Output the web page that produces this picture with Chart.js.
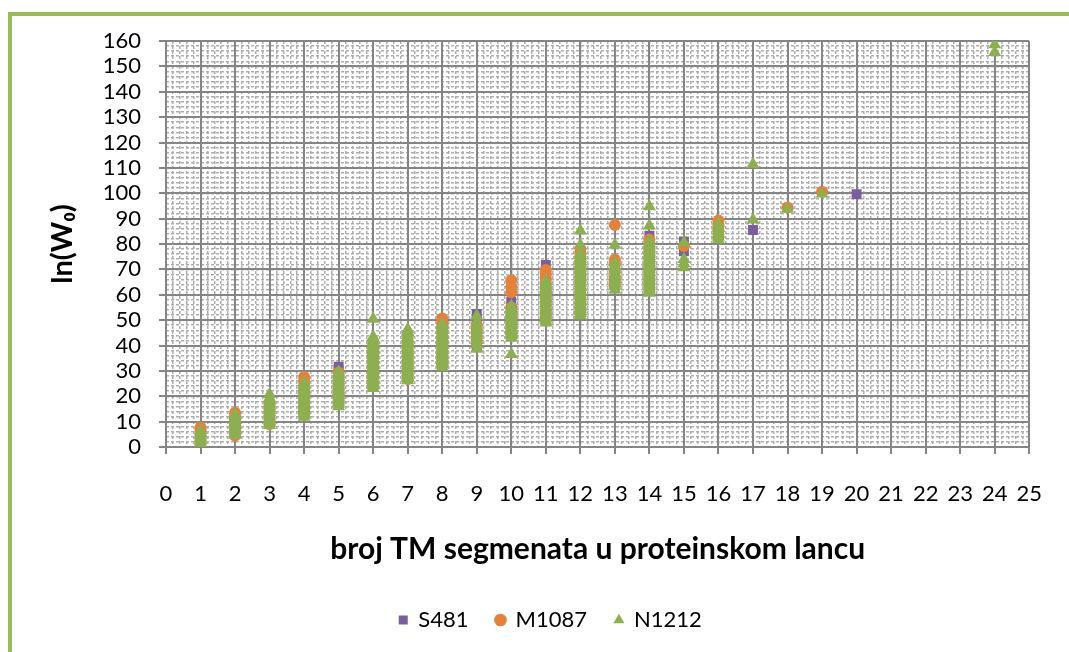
<!DOCTYPE html>
<html>
<head>
<meta charset="utf-8">
<script src="https://cdn.jsdelivr.net/npm/chart.js@4.4.1/dist/chart.umd.min.js"></script>
<style>
  html, body { margin: 0; padding: 0; background: #fff; }
  #wrap { position: relative; width: 1069px; height: 652px; overflow: hidden; }
  #frame { position: absolute; left: 8px; top: 12px; width: 1100px; height: 700px; border: 4px solid #9BBB59; box-sizing: border-box; }
  #wrap canvas { position: absolute; left: 0; top: 0; }
</style>
</head>
<body>
<div id="wrap">
  <div id="frame"></div>
  <canvas id="chart" width="1069" height="652"></canvas>
</div>
<script>
// broj TM segmenata (x) - one column of values per count
const tmCounts = [1, 2, 3, 4, 5, 6, 7, 8, 9, 10, 11, 12, 13, 14, 15, 16, 17, 18, 19, 20, 21, 22, 23, 24];

const s481 = [
    [2.0, 3.6, 5.2],
    [5.6, 7.6, 9.6, 11.5],
    [10.2, 12.4, 14.6, 16.8],
    [13.8, 16.2, 18.6, 21.0, 23.4, 25.6],
    [18.2, 20.6, 23.0, 25.4, 27.8, 29.8, 31.6],
    [25.0, 27.6, 30.2, 32.8, 35.4, 38.0, 40.4],
    [28.4, 31.0, 33.6, 36.2, 38.8, 41.4],
    [33.6, 36.2, 38.8, 41.4, 44.0, 46.6, 48.6],
    [40.0, 42.6, 45.2, 47.8, 50.2, 52.4],
    [45.0, 47.6, 50.2, 52.8, 55.0, 57.3],
    [50.6, 53.2, 55.8, 58.4, 61.0, 63.6, 66.2, 68.8, 71.7],
    [55.4, 58.0, 60.6, 63.2, 65.8, 68.4, 71.0, 73.6],
    [62.5, 65.0, 67.6, 70.2],
    [63.4, 66.0, 68.6, 71.2, 73.8, 76.4, 79.0, 81.4, 83.3],
    [77.1, 81.0],
    [84.6],
    [85.5],
    [],
    [],
    [99.6],
    [], [], [], []
];

const m1087 = [
    [1.2, 2.6, 4.0, 5.4, 6.6, 7.7],
    [4.5, 6.0, 7.6, 9.1, 10.7, 12.2, 13.5],
    [9.0, 10.6, 12.3, 13.9, 15.5, 17.2],
    [12.8, 14.4, 16.0, 17.6, 19.2, 20.8, 22.4, 24.0, 25.8, 27.6],
    [17.5, 19.2, 20.9, 22.6, 24.3, 26.0, 27.7, 29.4],
    [24.3, 26.0, 27.8, 29.5, 31.2, 33.0, 34.7, 36.4, 38.2, 39.8],
    [26.8, 28.6, 30.4, 32.2, 34.0, 35.8, 37.6, 39.4, 41.2],
    [32.5, 34.3, 36.1, 37.9, 39.8, 41.6, 43.4, 45.2, 47.0, 48.8, 50.6],
    [41.2, 43.0, 44.8, 46.6, 48.2],
    [44.2, 46.0, 47.8, 49.6, 51.4, 53.2, 55.0, 61.0, 63.2, 65.7],
    [50.2, 52.0, 53.8, 55.6, 57.4, 59.2, 61.0, 62.8, 64.6, 66.4, 68.2, 69.8],
    [53.0, 54.8, 56.6, 58.4, 60.2, 62.0, 63.8, 65.6, 67.4, 69.2, 71.0, 72.8, 74.6, 76.4, 78.0],
    [63.6, 65.4, 67.0, 69.6, 72.2, 73.8, 87.5],
    [62.4, 64.2, 66.0, 67.8, 69.6, 71.4, 73.2, 75.0, 76.8, 78.6, 80.4, 81.8],
    [79.2],
    [83.0, 85.4, 87.4, 89.3],
    [],
    [94.4],
    [100.6],
    [], [], [], [], []
];

const n1212 = [
    [0.8, 1.6, 2.5, 3.3, 4.1, 4.9, 5.7, 6.5],
    [4.7, 5.5, 6.4, 7.2, 8.1, 8.9, 9.8, 10.6, 11.5, 12.1, 12.8],
    [8.6, 9.4, 10.3, 11.1, 12.0, 12.8, 13.7, 14.5, 15.4, 16.2, 17.1, 17.9, 18.8, 19.4, 20.8],
    [11.8, 12.7, 13.5, 14.4, 15.2, 16.1, 16.9, 17.8, 18.6, 19.5, 20.3, 21.2, 22.0, 22.9, 23.7, 24.6, 25.5],
    [16.0, 16.9, 17.7, 18.6, 19.4, 20.3, 21.1, 22.0, 22.8, 23.7, 24.5, 25.4, 26.2, 27.1, 27.9, 28.8, 29.7],
    [23.2, 24.1, 24.9, 25.8, 26.6, 27.5, 28.3, 29.2, 30.0, 30.9, 31.7, 32.6, 33.4, 34.3, 35.1, 36.0, 36.8, 37.7, 38.5, 39.4, 40.2, 41.1, 41.9, 42.6, 43.4, 50.4],
    [26.2, 27.1, 27.9, 28.8, 29.6, 30.5, 31.3, 32.2, 33.0, 33.9, 34.7, 35.6, 36.4, 37.3, 38.1, 39.0, 39.8, 40.7, 41.5, 42.4, 43.2, 44.1, 44.9, 45.6, 46.4],
    [31.5, 32.4, 33.2, 34.1, 34.9, 35.8, 36.6, 37.5, 38.3, 39.2, 40.0, 40.9, 41.7, 42.6, 43.4, 44.3, 45.1, 46.0, 46.8, 47.6, 48.4],
    [38.6, 40.4, 42.1, 43.3, 44.7, 46.2, 47.5, 49.3, 51.6],
    [36.6, 43.0, 43.9, 44.7, 45.6, 46.4, 47.3, 48.1, 49.0, 49.8, 50.7, 51.5, 52.4, 53.2, 54.1, 54.9, 55.6],
    [49.0, 49.9, 50.7, 51.6, 52.4, 53.3, 54.1, 55.0, 55.8, 56.7, 57.5, 58.4, 59.2, 60.1, 60.9, 61.8, 62.6, 63.5, 64.3, 65.5],
    [51.8, 52.7, 53.5, 54.4, 55.2, 56.1, 56.9, 57.8, 58.6, 59.5, 60.3, 61.2, 62.0, 62.9, 63.7, 64.6, 65.4, 66.3, 67.1, 68.0, 68.8, 69.7, 70.5, 71.4, 72.2, 73.1, 73.9, 74.8, 75.6, 76.4, 79.6, 85.2],
    [62.0, 63.4, 64.6, 65.8, 67.2, 68.5, 69.9, 71.3, 72.7, 79.6],
    [60.7, 61.6, 62.4, 63.3, 64.1, 65.0, 65.8, 66.7, 67.5, 68.4, 69.2, 70.1, 70.9, 71.8, 72.6, 73.5, 74.3, 75.2, 76.0, 76.9, 77.7, 78.6, 79.4, 80.3, 81.2, 87.2, 94.8],
    [70.7, 72.3, 74.0, 80.6],
    [81.7, 82.8, 83.9, 85.1, 86.3, 88.0],
    [89.6, 111.4],
    [93.8],
    [99.8],
    [],
    [], [], [],
    [155.6, 158.6]
];

const xTicks = { min: 0, max: 25, step: 1, minorStep: 0.2 };
const yTicks = { min: 0, max: 160, step: 10, minorStep: 2 };

const FONT = 'Lato';
const gridMajor = '#858585';
const gridMinor = '#ADADAD';

function toPoints(columns) {
    return tmCounts.flatMap((tm, i) => columns[i].map(v => ({ x: tm, y: v })));
}

// legenda je u Excelu malo desno od sredine
const legendShift = {
    id: 'legendShift',
    afterLayout(chart) {
        chart.legend.left += 32;
        chart.legend.right += 32;
    }
};

new Chart(document.getElementById('chart'), {
    type: 'scatter',
    data: {
        datasets: [
            {
                label: 'S481', data: toPoints(s481), pointStyle: 'rect',
                pointRadius: 7, pointHoverRadius: 7,
                backgroundColor: '#7A5EA0', pointBackgroundColor: '#7A5EA0',
                borderWidth: 0, pointBorderWidth: 0, order: 2
            },
            {
                label: 'M1087', data: toPoints(m1087), pointStyle: 'circle',
                pointRadius: 6, pointHoverRadius: 6,
                backgroundColor: '#E5823A', pointBackgroundColor: '#E5823A',
                borderWidth: 0, pointBorderWidth: 0, order: 1
            },
            {
                label: 'N1212', data: toPoints(n1212), pointStyle: 'triangle',
                pointRadius: 7.5, pointHoverRadius: 7.5,
                backgroundColor: '#8CB050', pointBackgroundColor: '#8CB050',
                borderWidth: 0, pointBorderWidth: 0, order: 0
            }
        ]
    },
    options: {
        responsive: false,
        animation: false,
        events: [],
        layout: { padding: { left: 0, top: 41, right: 32, bottom: 11 } },
        plugins: {
            legend: {
                position: 'bottom',
                labels: {
                    usePointStyle: true,
                    boxWidth: 8,
                    boxHeight: 9,
                    padding: 28,
                    color: '#000',
                    font: { family: FONT, size: 22 },
                    sort: (a, b) => a.datasetIndex - b.datasetIndex
                }
            },
            tooltip: { enabled: false }
        },
        scales: {
            xMinor: {
                type: 'linear', position: 'bottom', min: xTicks.min, max: xTicks.max,
                ticks: { display: false, stepSize: xTicks.minorStep, autoSkip: false },
                grid: { color: gridMinor, lineWidth: 1.5, drawTicks: false, z: -2 },
                border: { display: false, dash: [3, 2] },
                afterFit: s => { s.height = 0; }
            },
            yMinor: {
                type: 'linear', position: 'left', min: yTicks.min, max: yTicks.max,
                ticks: { display: false, stepSize: yTicks.minorStep, autoSkip: false },
                grid: { color: gridMinor, lineWidth: 1.5, drawTicks: false, z: -2 },
                border: { display: false, dash: [3, 2] },
                afterFit: s => { s.width = 0; }
            },
            x: {
                type: 'linear', position: 'bottom', min: xTicks.min, max: xTicks.max,
                ticks: {
                    stepSize: xTicks.step, autoSkip: false, maxRotation: 0,
                    padding: 27, color: '#000', font: { family: FONT, size: 22 }
                },
                grid: { color: gridMajor, lineWidth: 2, tickLength: 7, z: -1 },
                border: { color: gridMajor, width: 2 },
                title: {
                    display: true, text: 'broj TM segmenata u proteinskom lancu', color: '#000',
                    font: { family: FONT, size: 30, weight: 'bold' }, padding: { top: 0, bottom: 14 }
                },
                afterFit: s => { s.height = 134; }
            },
            y: {
                type: 'linear', position: 'left', min: yTicks.min, max: yTicks.max,
                ticks: {
                    stepSize: yTicks.step, autoSkip: false,
                    padding: 18, color: '#000', font: { family: FONT, size: 22 }
                },
                grid: { color: gridMajor, lineWidth: 2, tickLength: 7, z: -1 },
                border: { color: gridMajor, width: 2 },
                title: {
                    display: true, text: 'ln(W₀)', color: '#000',
                    font: { family: FONT, size: 29, weight: 'bold' }, padding: { top: 45.6, bottom: 0 }
                },
                afterFit: s => { s.width = 166; }
            }
        }
    },
    plugins: [legendShift]
});
</script>
</body>
</html>
